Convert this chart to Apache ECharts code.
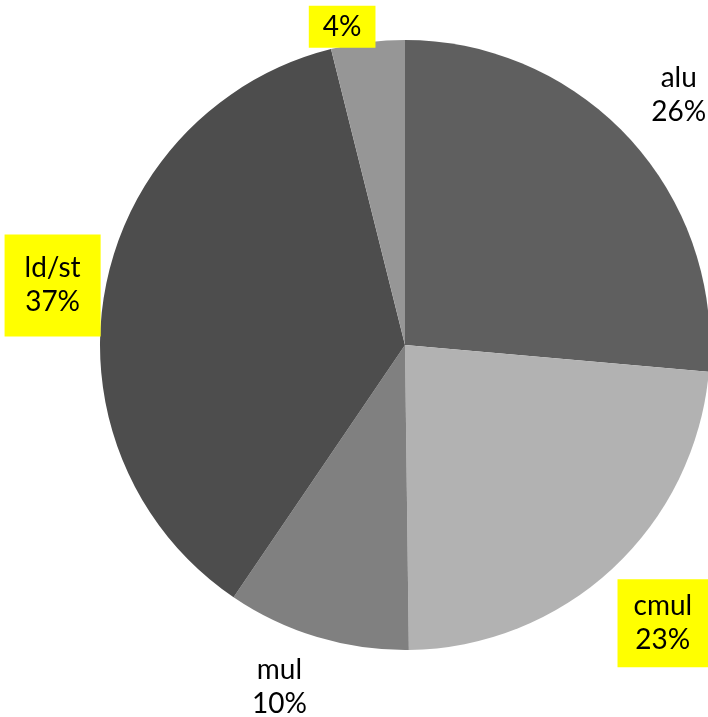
<!DOCTYPE html>
<html>
<head>
<meta charset="utf-8">
<script src="https://cdn.jsdelivr.net/npm/echarts@6/dist/echarts.min.js"></script>
<style>
html,body{margin:0;padding:0;background:#fff;}
#c{width:708px;height:717px;}
</style>
</head>
<body>
<div id="c"></div>
<script>
// Data
var categories = ['alu', 'cmul', 'mul', 'ld/st', ''];
var values = [26.4, 23.4, 9.7, 36.6, 3.9];

// Styles
var colors = ['#5f5f5f', '#b2b2b2', '#808080', '#4d4d4d', '#969696'];
var highlighted = [false, true, false, true, true];
var paddings = [[0,0,0,0], [10,16,10,16], [0,0,0,0], [17,20,17,20], [4,14,4,14]];
var labelOffsets = [[6, -5], [11, 12], [-21, -6], [5, 4], [-18.5, 42]];

var chart = echarts.init(document.getElementById('c'), null, {renderer: 'canvas'});

var pieData = categories.map(function (n, i) {
  return {name: n, value: values[i], itemStyle: {color: colors[i]}};
});
var labelData = categories.map(function (n, i) {
  return {
    name: n, value: values[i],
    label: {
      backgroundColor: highlighted[i] ? '#ffff00' : 'transparent',
      padding: paddings[i]
    }
  };
});

chart.setOption({
  animation: false,
  backgroundColor: '#ffffff',
  series: [
    {
      type: 'pie',
      center: [405, 345],
      radius: [0, 305],
      startAngle: 90,
      clockwise: true,
      silent: true,
      label: {show: false},
      labelLine: {show: false},
      itemStyle: {borderWidth: 0},
      data: pieData
    },
    {
      type: 'pie',
      center: [405, 345],
      radius: [305, 415],
      startAngle: 90,
      clockwise: true,
      silent: true,
      itemStyle: {color: 'rgba(0,0,0,0)', borderWidth: 0},
      labelLine: {show: false},
      label: {
        show: true,
        position: 'inside',
        fontFamily: 'Lato',
        fontSize: 28,
        lineHeight: 34,
        color: '#000000',
        formatter: function (p) {
          var pct = Math.round(p.percent) + '%';
          return p.name ? p.name + '\n' + pct : pct;
        }
      },
      labelLayout: function (params) {
        var o = labelOffsets[params.dataIndex];
        return {dx: o[0], dy: o[1]};
      },
      data: labelData
    }
  ]
});
</script>
</body>
</html>
